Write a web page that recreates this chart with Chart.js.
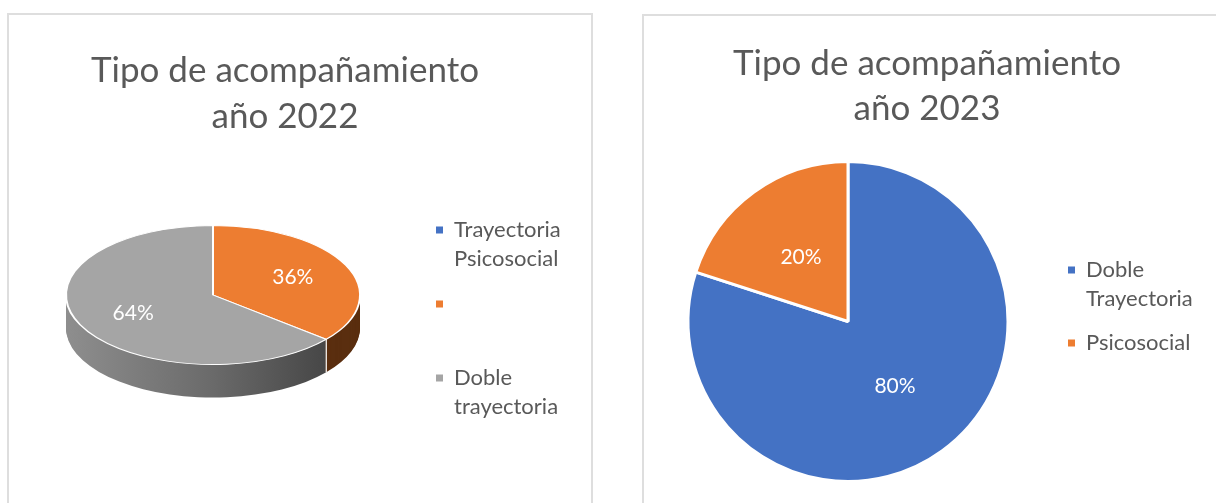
<!DOCTYPE html>
<html>
<head>
<meta charset="utf-8">
<script src="https://cdn.jsdelivr.net/npm/chart.js@4.4.0/dist/chart.umd.min.js"></script>
<style>
  html, body { margin:0; padding:0; background:#fff; width:1216px; height:503px; overflow:hidden; font-family:Lato, sans-serif; }
  .panel { position:absolute; border:2px solid #dedede; box-sizing:border-box; background:#fff; }
  #p1 { left:7px; top:13px; width:586px; height:530px; }
  #p2 { left:642px; top:14px; width:620px; height:530px; }
  .title { position:absolute; text-align:center; color:#595959; font-size:35px; white-space:nowrap; }
  #t1 { left:85px; width:400px; top:45px; line-height:46px; }
  #t2 { left:727px; width:400px; top:39px; line-height:45px; }
  .wrap { position:absolute; }
  #w1 { left:6px; top:13px; width:585px; height:490px; }
  #w2 { left:643px; top:14px; width:573px; height:489px; }
</style>
</head>
<body>
<div class="panel" id="p1"></div>
<div class="panel" id="p2"></div>
<div class="wrap" id="w1"><canvas id="c1"></canvas></div>
<div class="wrap" id="w2"><canvas id="c2"></canvas></div>
<div class="title" id="t1"></div>
<div class="title" id="t2"></div>
<script>
// ---------- data ----------
const title2022 = ['Tipo de acompañamiento', 'año 2022'];
const categories2022 = ['Trayectoria Psicosocial', '', 'Doble trayectoria'];
const values2022 = [0, 36, 64];

const title2023 = ['Tipo de acompañamiento', 'año 2023'];
const categories2023 = ['Doble Trayectoria', 'Psicosocial'];
const values2023 = [80, 20];

const colors2022 = ['#4472C4', '#ED7D31', '#A5A5A5'];
const sides2022 = ['#233b66', '#5a2e0f', ['#8e8e8e', '#6a6a6a', '#3c3c3c']];
const colors2023 = ['#4472C4', '#ED7D31'];

// ---------- titles ----------
document.getElementById('t1').innerHTML = title2022.join('<br>');
document.getElementById('t2').innerHTML = title2023.join('<br>');

// ---------- helpers ----------
const TEXT = '#595959';
const legendFont = { family: 'Lato', size: 22, lineHeight: 29 / 22 };
const BOX = 7;

function wrapLabel(label, minLines) {
  const lines = label === '' ? [''] : label.split(' ');
  while (lines.length < minLines) lines.push('');
  return lines;
}
function legendWidth(labels, minLines, pad) {
  const c = document.createElement('canvas').getContext('2d');
  c.font = legendFont.size + 'px ' + legendFont.family;
  let w = 0;
  labels.forEach(l => {
    const lines = wrapLabel(l, minLines);
    const longest = lines.reduce((a, b) => a.length > b.length ? a : b);
    w = Math.max(w, c.measureText(longest).width);
  });
  return pad + BOX + legendFont.size / 2 + w + 10;
}

const pie3d = {
  id: 'pie3d',
  beforeDatasetsDraw(chart, args, o) {
    const ctx = chart.ctx;
    const arcs = chart.getDatasetMeta(0).data;
    const cx = arcs[0].x, cy = arcs[0].y;
    const ty = cy - o.lift;
    for (let d = o.depth; d >= 1; d--) {
      arcs.forEach((arc, i) => {
        const { startAngle, endAngle, outerRadius } = arc;
        if (endAngle - startAngle <= 1e-6) return;
        ctx.save();
        ctx.translate(cx, ty + d);
        ctx.scale(1, o.tilt);
        ctx.beginPath();
        ctx.moveTo(0, 0);
        ctx.arc(0, 0, outerRadius, startAngle, endAngle);
        ctx.closePath();
        const side = o.sides[i];
        if (Array.isArray(side)) {
          const g = ctx.createLinearGradient(-outerRadius, 0, outerRadius, 0);
          side.forEach((c, j) => g.addColorStop(j / (side.length - 1), c));
          ctx.fillStyle = g;
        } else {
          ctx.fillStyle = side;
        }
        ctx.fill();
        ctx.restore();
      });
    }
    // white seams on the visible side
    ctx.save();
    ctx.strokeStyle = '#ffffff';
    ctx.lineWidth = 1.2;
    arcs.forEach(arc => {
      if (arc.endAngle - arc.startAngle <= 1e-6) return;
      const a = arc.endAngle;
      const s = Math.sin(a);
      if (s > 0 && Math.abs(Math.cos(a)) < 0.999) {
        const x = cx + Math.cos(a) * arc.outerRadius;
        const y = ty + s * arc.outerRadius * o.tilt;
        ctx.beginPath();
        ctx.moveTo(x, y);
        ctx.lineTo(x, y + o.depth);
        ctx.stroke();
      }
    });
    ctx.restore();
    ctx.save();
    ctx.translate(cx, ty);
    ctx.scale(1, o.tilt);
    ctx.translate(-cx, -cy);
  },
  afterDatasetsDraw(chart) {
    chart.ctx.restore();
  }
};

const pctLabels = {
  id: 'pctLabels',
  afterDraw(chart, args, o) {
    const ctx = chart.ctx;
    const data = chart.data.datasets[0].data;
    const total = data.reduce((a, b) => a + b, 0);
    const meta = chart.getDatasetMeta(0);
    ctx.save();
    ctx.fillStyle = '#ffffff';
    ctx.font = o.size + 'px Lato';
    ctx.textAlign = 'center';
    ctx.textBaseline = 'middle';
    meta.data.forEach((arc, i) => {
      const v = data[i];
      if (!v) return;
      const mid = (arc.startAngle + arc.endAngle) / 2;
      const r = arc.outerRadius * o.radius;
      const x = arc.x + Math.cos(mid) * r;
      let y = arc.y + Math.sin(mid) * r;
      if (o.tilt) y = arc.y - o.lift + Math.sin(mid) * r * o.tilt;
      ctx.fillText(Math.round(v / total * 100) + '%', x, y);
    });
    ctx.restore();
  }
};

function legendOpts(minLines, pad) {
  return {
    display: true,
    position: 'right',
    align: 'start',
    fullSize: false,
    labels: {
      boxWidth: BOX, boxHeight: BOX, padding: pad, color: TEXT, font: legendFont,
      generateLabels(chart) {
        const ds = chart.data.datasets[0];
        return chart.data.labels.map((l, i) => ({
          text: wrapLabel(l, minLines),
          fillStyle: ds.backgroundColor[i],
          strokeStyle: ds.backgroundColor[i],
          lineWidth: 0,
          hidden: false,
          index: i,
          fontColor: TEXT
        }));
      }
    }
  };
}

Chart.defaults.font.family = 'Lato';

// ---------- chart 2022 (3D-style pie) ----------
const W1 = 585, pad1 = 16;
const lw1 = legendWidth(categories2022, 2, pad1);
new Chart(document.getElementById('c1'), {
  type: 'pie',
  data: {
    labels: categories2022,
    datasets: [{ data: values2022, backgroundColor: colors2022, borderColor: '#ffffff', borderWidth: 2 }]
  },
  options: {
    responsive: true, maintainAspectRatio: false, animation: false,
    events: [],
    radius: 147,
    layout: { padding: { left: 0, top: 190, bottom: 49, right: W1 - 414 - lw1 } },
    plugins: {
      legend: legendOpts(2, pad1),
      tooltip: { enabled: false },
      title: { display: false },
      pie3d: { tilt: 0.473, depth: 33, lift: 33.5, sides: sides2022 },
      pctLabels: { size: 21, radius: 0.6, tilt: 0.473, lift: 33.5 }
    }
  },
  plugins: [pie3d, pctLabels]
});

// ---------- chart 2023 (flat pie) ----------
const W2 = 573, pad2 = 15;
const lw2 = legendWidth(categories2023, 1, pad2);
new Chart(document.getElementById('c2'), {
  type: 'pie',
  data: {
    labels: categories2023,
    datasets: [{ data: values2023, backgroundColor: colors2023, borderColor: '#ffffff', borderWidth: 3 }]
  },
  options: {
    responsive: true, maintainAspectRatio: false, animation: false,
    events: [],
    radius: 160,
    layout: { padding: { left: 0, top: 230, bottom: 104, right: W2 - 410 - lw2 } },
    plugins: {
      legend: legendOpts(1, pad2),
      tooltip: { enabled: false },
      title: { display: false },
      pctLabels: { size: 21, radius: 0.5 }
    }
  },
  plugins: [pctLabels]
});
</script>
</body>
</html>
